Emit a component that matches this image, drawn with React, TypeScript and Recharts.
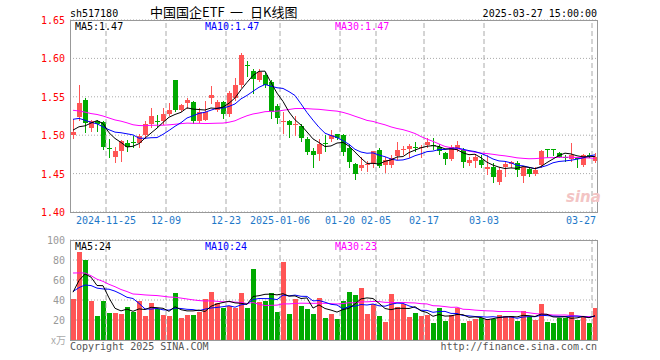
import { Bar, CartesianGrid, ComposedChart, Line, ReferenceLine, XAxis, YAxis } from "recharts";

const dates = [
  "2024-11-15", "2024-11-18", "2024-11-19", "2024-11-20", "2024-11-21", "2024-11-22",
  "2024-11-25", "2024-11-26", "2024-11-27", "2024-11-28", "2024-11-29",
  "2024-12-02", "2024-12-03", "2024-12-04", "2024-12-05", "2024-12-06",
  "2024-12-09", "2024-12-10", "2024-12-11", "2024-12-12", "2024-12-13",
  "2024-12-16", "2024-12-17", "2024-12-18", "2024-12-19", "2024-12-20",
  "2024-12-23", "2024-12-24", "2024-12-25", "2024-12-26", "2024-12-27",
  "2024-12-30", "2024-12-31", "2025-01-02", "2025-01-03",
  "2025-01-06", "2025-01-07", "2025-01-08", "2025-01-09", "2025-01-10",
  "2025-01-13", "2025-01-14", "2025-01-15", "2025-01-16", "2025-01-17",
  "2025-01-20", "2025-01-21", "2025-01-22", "2025-01-23", "2025-01-24", "2025-01-27",
  "2025-02-05", "2025-02-06", "2025-02-07",
  "2025-02-10", "2025-02-11", "2025-02-12", "2025-02-13", "2025-02-14",
  "2025-02-17", "2025-02-18", "2025-02-19", "2025-02-20", "2025-02-21",
  "2025-02-24", "2025-02-25", "2025-02-26", "2025-02-27", "2025-02-28",
  "2025-03-03", "2025-03-04", "2025-03-05", "2025-03-06", "2025-03-07",
  "2025-03-10", "2025-03-11", "2025-03-12", "2025-03-13", "2025-03-14",
  "2025-03-17", "2025-03-18", "2025-03-19", "2025-03-20", "2025-03-21",
  "2025-03-24", "2025-03-25", "2025-03-26", "2025-03-27"
];

const opens = [
  1.500, 1.524, 1.546, 1.510, 1.519, 1.517, 1.483, 1.472, 1.479, 1.490,
  1.491, 1.490, 1.500, 1.515, 1.518, 1.518, 1.528, 1.572, 1.533, 1.542,
  1.543, 1.519, 1.520, 1.548, 1.533, 1.543, 1.527, 1.549, 1.565, 1.592,
  1.583, 1.572, 1.579, 1.569, 1.538, 1.518, 1.518, 1.514, 1.512, 1.495,
  1.480, 1.475, 1.490, 1.495, 1.501, 1.500, 1.483, 1.462, 1.457, 1.461,
  1.463, 1.481, 1.461, 1.461, 1.473, 1.481, 1.482, 1.485, 1.484, 1.487,
  1.487, 1.485, 1.477, 1.469, 1.483, 1.481, 1.464, 1.467, 1.468, 1.456,
  1.458, 1.439, 1.458, 1.462, 1.464, 1.447, 1.456, 1.450, 1.461, 1.482,
  1.482, 1.477, 1.471, 1.469, 1.470, 1.461, 1.474, 1.466
];
const highs = [
  1.521, 1.566, 1.548, 1.520, 1.520, 1.519, 1.495, 1.485, 1.494, 1.494,
  1.499, 1.502, 1.519, 1.535, 1.526, 1.535, 1.542, 1.572, 1.541, 1.549,
  1.544, 1.535, 1.544, 1.564, 1.546, 1.545, 1.557, 1.575, 1.607, 1.597,
  1.586, 1.586, 1.582, 1.572, 1.541, 1.530, 1.520, 1.525, 1.514, 1.498,
  1.483, 1.495, 1.500, 1.507, 1.502, 1.502, 1.489, 1.464, 1.472, 1.467,
  1.480, 1.483, 1.472, 1.474, 1.491, 1.486, 1.489, 1.491, 1.487, 1.496,
  1.496, 1.488, 1.478, 1.487, 1.493, 1.483, 1.472, 1.476, 1.474, 1.474,
  1.464, 1.458, 1.466, 1.467, 1.466, 1.459, 1.459, 1.458, 1.481, 1.482,
  1.482, 1.478, 1.474, 1.490, 1.472, 1.476, 1.477, 1.477
];
const lows = [
  1.497, 1.520, 1.504, 1.506, 1.505, 1.482, 1.472, 1.465, 1.467, 1.479,
  1.484, 1.484, 1.496, 1.511, 1.511, 1.514, 1.526, 1.531, 1.531, 1.535,
  1.516, 1.517, 1.520, 1.542, 1.531, 1.523, 1.525, 1.546, 1.563, 1.577,
  1.555, 1.570, 1.563, 1.522, 1.516, 1.503, 1.498, 1.500, 1.493, 1.475,
  1.459, 1.468, 1.480, 1.493, 1.495, 1.474, 1.459, 1.443, 1.455, 1.454,
  1.459, 1.458, 1.452, 1.458, 1.469, 1.476, 1.472, 1.480, 1.471, 1.485,
  1.482, 1.475, 1.462, 1.468, 1.480, 1.459, 1.461, 1.458, 1.458, 1.450,
  1.439, 1.437, 1.447, 1.458, 1.447, 1.439, 1.447, 1.448, 1.459, 1.472,
  1.474, 1.471, 1.467, 1.467, 1.458, 1.460, 1.471, 1.465
];
const closes = [
  1.504, 1.542, 1.516, 1.518, 1.515, 1.485, 1.482, 1.479, 1.492, 1.485,
  1.490, 1.499, 1.515, 1.525, 1.517, 1.527, 1.533, 1.533, 1.539, 1.546,
  1.519, 1.530, 1.530, 1.552, 1.543, 1.528, 1.555, 1.565, 1.605, 1.591,
  1.573, 1.582, 1.566, 1.530, 1.523, 1.519, 1.513, 1.515, 1.496, 1.478,
  1.474, 1.489, 1.489, 1.500, 1.497, 1.478, 1.465, 1.450, 1.461, 1.462,
  1.479, 1.460, 1.468, 1.470, 1.481, 1.482, 1.486, 1.484, 1.485, 1.491,
  1.486, 1.480, 1.469, 1.484, 1.487, 1.465, 1.468, 1.472, 1.461, 1.458,
  1.446, 1.455, 1.463, 1.465, 1.455, 1.458, 1.449, 1.455, 1.479, 1.481,
  1.481, 1.472, 1.470, 1.474, 1.469, 1.474, 1.473, 1.472
];
// volume, 万手
const volumes = [
  40.5, 88.5, 79.5, 39.5, 24.5, 39.5, 27.5, 27.5, 26.5, 33.5,
  28.5, 39.5, 24.5, 37.5, 31.5, 25.5, 24.5, 47.5, 22.5, 25.5,
  25.5, 28.5, 40.5, 48.5, 37.5, 32.5, 34.5, 32.5, 46.5, 32.5,
  71.5, 38.5, 39.5, 47.5, 28.5, 77.5, 26.5, 40.5, 34.5, 31.5,
  26.5, 42.5, 22.5, 26.5, 21.5, 39.5, 48.5, 44.5, 51.5, 26.5,
  36.5, 24.5, 18.5, 45.5, 33.5, 36.5, 23.5, 27.5, 24.5, 25.5,
  17.5, 32.5, 19.5, 25.5, 32.5, 16.5, 19.5, 21.5, 22.5, 21.5,
  21.5, 25.5, 24.5, 24.5, 19.5, 29.5, 23.5, 20.5, 36.5, 18.5,
  16.5, 22.5, 22.5, 28.5, 20.5, 23.5, 16.5, 32.5
];

// the 29 sessions before the window, estimated from where the MA lines start
const priorCloses = [
  1.570, 1.560, 1.575, 1.550, 1.545, 1.560, 1.555, 1.540, 1.550, 1.565,
  1.530, 1.520, 1.510, 1.515, 1.525, 1.520, 1.510, 1.515, 1.525, 1.527,
  1.530, 1.540, 1.545, 1.535, 1.524, 1.520, 1.510, 1.500, 1.499
];
const priorVolumes = [
  86, 82, 120, 130, 105, 115, 100, 110, 95, 102,
  50, 42, 48, 40, 46, 47, 55, 48, 52, 52,
  50, 53, 45, 50, 48, 30, 47, 55, 66.5
];

const tickDates = ["2024-11-25", "2024-12-09", "2024-12-23", "2025-01-06", "2025-01-20", "2025-02-05", "2025-02-17", "2025-03-03", "2025-03-27"];
const tickLabels = ["2024-11-25", "12-09", "12-23", "2025-01-06", "01-20", "02-05", "02-17", "03-03", "03-27"];
const priceTicks = [1.4, 1.45, 1.5, 1.55, 1.6, 1.65];
const volumeTicks = [0, 20, 40, 60, 80, 100];
const priceLegend = ["MA5:1.47", "MA10:1.47", "MA30:1.47"];
const volumeLegend = ["MA5:24", "MA10:24", "MA30:23"];

const RED = "#ff5555";
const GREEN = "#00aa00";
const MA_COLORS = ["#000000", "#0000ff", "#ff00ff"];
const GRID = "#aaaaaa";
const BORDER = "#999999";
const MONO = "'DejaVu Sans Mono', 'Liberation Mono', monospace";
const CJK = "'Noto Sans CJK SC', sans-serif";
const PLOT_LEFT = 70;
const PLOT_RIGHT = 598;

function movingAvg(values: number[], prior: number[], n: number) {
  const all = [...prior, ...values];
  return values.map((_, i) => {
    const end = prior.length + i + 1;
    const win = all.slice(Math.max(0, end - n), end);
    return win.reduce((a, b) => a + b, 0) / win.length;
  });
}

const ma5 = movingAvg(closes, priorCloses, 5);
const ma10 = movingAvg(closes, priorCloses, 10);
const ma30 = movingAvg(closes, priorCloses, 30);
const vma5 = movingAvg(volumes, priorVolumes, 5);
const vma10 = movingAvg(volumes, priorVolumes, 10);
const vma30 = movingAvg(volumes, priorVolumes, 30);

const rows = dates.map((date, i) => ({
  date,
  open: opens[i],
  high: highs[i],
  low: lows[i],
  close: closes[i],
  range: [lows[i], highs[i]],
  up: closes[i] >= opens[i],
  ma5: ma5[i],
  ma10: ma10[i],
  ma30: ma30[i],
  vol: volumes[i],
  vma5: vma5[i],
  vma10: vma10[i],
  vma30: vma30[i]
}));

function Candle(props: any) {
  const { x, y, width, height, payload } = props;
  if (!payload) return null;
  const { open, close, high, low, up } = payload;
  const color = up ? RED : GREEN;
  const top = Math.min(y, y + height);
  const h = Math.abs(height);
  const span = high - low;
  const toY = (v: number) => (span === 0 ? top : top + ((high - v) / span) * h);
  const bx = Math.floor(x);
  const cx = bx + 2.5;
  const y1 = Math.round(toY(Math.max(open, close)));
  const y2 = Math.round(toY(Math.min(open, close)));
  return (
    <g>
      <line x1={cx} x2={cx} y1={Math.round(top)} y2={Math.round(top + h) + 1} stroke={color} strokeWidth={1} />
      <rect x={bx} y={y1} width={Math.max(1, Math.round(width))} height={Math.max(1, y2 - y1)} fill={color} />
    </g>
  );
}

function VolumeBar(props: any) {
  const { x, y, width, height, payload } = props;
  if (!payload) return null;
  const top = Math.round(y);
  return (
    <rect
      x={Math.floor(x)}
      y={top}
      width={Math.max(1, Math.round(width))}
      height={Math.max(0, Math.round(y + height) - top)}
      fill={payload.up ? RED : GREEN}
    />
  );
}

function DateTick({ x, y, payload }: any) {
  const label = tickLabels[tickDates.indexOf(payload.value)] ?? "";
  let tx = x - 3;
  let anchor: "middle" | "end" = "middle";
  if (tx + label.length * 3 > PLOT_RIGHT) {
    tx = PLOT_RIGHT - 2;
    anchor = "end";
  }
  return (
    <text x={tx} y={y} dy={12} textAnchor={anchor} fill="#1e78c8" fontSize={10} fontFamily={MONO}>
      {label}
    </text>
  );
}

function PriceTick({ x, y, payload }: any) {
  return (
    <text x={x} y={y} dy={4} textAnchor="end" fill="#ff0000" fontSize={10} fontFamily={MONO}>
      {Number(payload.value).toFixed(2)}
    </text>
  );
}

function VolumeTick({ x, y, payload }: any) {
  if (payload.value === 0) return null;
  return (
    <text x={x} y={y} dy={4} textAnchor="end" fill="#999999" fontSize={10} fontFamily={MONO}>
      {payload.value}
    </text>
  );
}

const Frame = ({ top, height }: { top: number; height: number }) => (
  <div
    style={{
      position: "absolute",
      left: PLOT_LEFT,
      top,
      width: PLOT_RIGHT - PLOT_LEFT,
      height,
      border: `1px solid ${BORDER}`,
      boxSizing: "border-box",
      pointerEvents: "none"
    }}
  />
);

function Legend({ items, y }: { items: string[]; y: number }) {
  const xs = [75, 205, 335];
  return (
    <>
      {items.map((t, i) => (
        <text key={t} x={xs[i]} y={y} fill={MA_COLORS[i]} fontSize={10} fontFamily={MONO}>
          {t}
        </text>
      ))}
    </>
  );
}

export default function App() {
  return (
    <div style={{ position: "absolute", left: 0, top: 0, width: 660, height: 360, background: "#fff", overflow: "hidden" }}>
      <div style={{ position: "absolute", left: 0, top: 0 }}>
        <ComposedChart width={660} height={232} data={rows} margin={{ top: 20, right: 660 - PLOT_RIGHT, bottom: 0, left: 0 }} barCategoryGap={0}>
          <CartesianGrid horizontal vertical={false} stroke={GRID} strokeDasharray="1 2" />
          <XAxis
            dataKey="date"
            ticks={tickDates}
            interval={0}
            height={20}
            tickLine={false}
            axisLine={false}
            tickSize={0}
            tickMargin={0}
            tick={<DateTick />}
          />
          <YAxis
            domain={[1.4, 1.65]}
            ticks={priceTicks}
            interval={0}
            width={PLOT_LEFT}
            tickLine={false}
            axisLine={false}
            tickSize={0}
            tickMargin={5}
            tick={<PriceTick />}
            allowDataOverflow
          />
          {tickDates.map((d) => (
            <ReferenceLine key={d} x={d} position="start" stroke={GRID} strokeDasharray="5 3" />
          ))}
          <Bar dataKey="range" barSize={5} shape={<Candle />} isAnimationActive={false} />
          <Line dataKey="ma30" type="linear" stroke={MA_COLORS[2]} strokeWidth={1} dot={false} isAnimationActive={false} />
          <Line dataKey="ma10" type="linear" stroke={MA_COLORS[1]} strokeWidth={1} dot={false} isAnimationActive={false} />
          <Line dataKey="ma5" type="linear" stroke={MA_COLORS[0]} strokeWidth={1} dot={false} isAnimationActive={false} />
        </ComposedChart>
      </div>
      <div style={{ position: "absolute", left: 0, top: 232 }}>
        <ComposedChart width={660} height={110} data={rows} margin={{ top: 8, right: 660 - PLOT_RIGHT, bottom: 2, left: 0 }} barCategoryGap={0}>
          <CartesianGrid horizontal vertical={false} stroke={GRID} strokeDasharray="1 2" />
          <XAxis dataKey="date" hide />
          <YAxis
            domain={[0, 100]}
            ticks={volumeTicks}
            interval={0}
            width={PLOT_LEFT}
            tickLine={false}
            axisLine={false}
            tickSize={0}
            tickMargin={5}
            tick={<VolumeTick />}
            allowDataOverflow
          />
          {tickDates.map((d) => (
            <ReferenceLine key={d} x={d} position="start" stroke={GRID} strokeDasharray="5 3" />
          ))}
          <Bar dataKey="vol" barSize={5} shape={<VolumeBar />} isAnimationActive={false} />
          <Line dataKey="vma30" type="linear" stroke={MA_COLORS[2]} strokeWidth={1} dot={false} isAnimationActive={false} />
          <Line dataKey="vma10" type="linear" stroke={MA_COLORS[1]} strokeWidth={1} dot={false} isAnimationActive={false} />
          <Line dataKey="vma5" type="linear" stroke={MA_COLORS[0]} strokeWidth={1} dot={false} isAnimationActive={false} />
        </ComposedChart>
      </div>
      <Frame top={20} height={193} />
      <Frame top={240} height={101} />
      <svg width={660} height={360} style={{ position: "absolute", left: 0, top: 0, pointerEvents: "none" }}>
        <text x={70} y={17} fontSize={10} fontFamily={MONO} fill="#000">sh517180</text>
        <text x={150} y={17} fontSize={13} fontFamily={CJK} fill="#000">中国国企ETF</text>
        <text x={230} y={17} fontSize={13} fontFamily={CJK} fill="#000">一</text>
        <text x={250} y={17} fontSize={13} fontFamily={CJK} fill="#000">日K线图</text>
        <text x={597} y={17} textAnchor="end" fontSize={10} fontFamily={MONO} fill="#000">2025-03-27 15:00:00</text>
        <Legend items={priceLegend} y={30} />
        <Legend items={volumeLegend} y={250} />
        <text x={566} y={202} fontSize={15} fontStyle="italic" fontWeight="bold" fontFamily="'DejaVu Sans', sans-serif" fill="#f3c4c4">sina</text>
        <text x={66} y={344} textAnchor="end" fontSize={10} fontFamily={CJK} fill="#aaaaaa">x万</text>
        <text x={70} y={350} fontSize={10} fontFamily={MONO} fill="#555">Copyright 2025 SINA.COM</text>
        <text x={597} y={350} textAnchor="end" fontSize={10} fontFamily={MONO} fill="#555">http://finance.sina.com.cn</text>
      </svg>
    </div>
  );
}
